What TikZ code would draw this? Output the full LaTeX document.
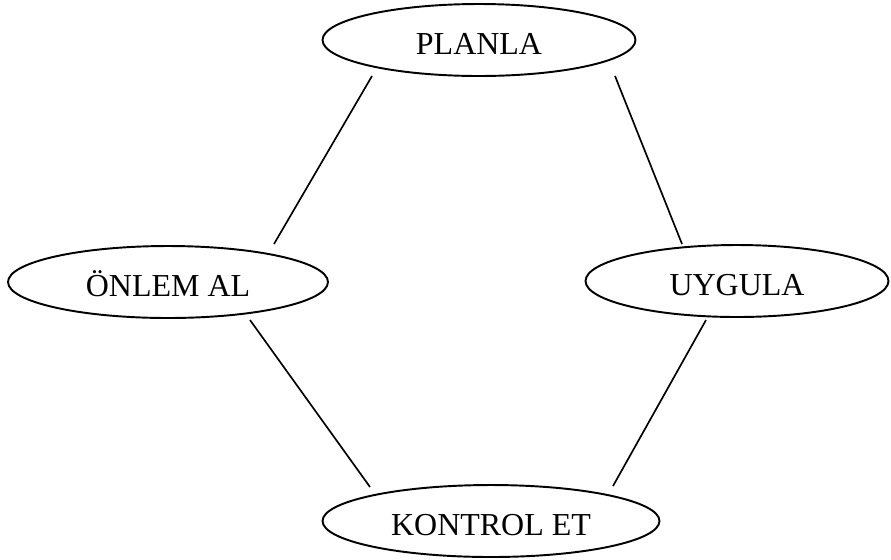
\documentclass[tikz,border=0pt]{standalone}
\usepackage{fontspec}
\setmainfont{Liberation Serif}
\usetikzlibrary{shapes.geometric}
\tikzset{oval/.style = {draw, ellipse, line width=1.1pt, inner sep=0pt,
                        minimum height=1.44cm, text height=0.58cm, text depth=0pt,
                        font=\fontsize{18.2}{20}\selectfont}}

\begin{document}
\begin{tikzpicture}[x=0.02cm, y=-0.02cm, line width=0.95pt]
      \useasboundingbox (0, 0) rectangle (891, 559);

      \node [oval, minimum width=6.26cm] (planla) at (479, 40) {PLANLA};
      \node [oval, minimum width=6.4cm] (onlem) at (168, 282) {ÖNLEM AL};
      \node [oval, minimum width=6.06cm] (uygula) at (737, 281) {UYGULA};
      \node [oval, minimum width=6.74cm] (kontrol) at (491, 521) {KONTROL ET};

      \coordinate (planla-l) at (372, 76);
      \coordinate (planla-r) at (615, 76);
      \coordinate (onlem-t) at (274, 244);
      \coordinate (onlem-b) at (250, 320);
      \coordinate (uygula-t) at (682, 244);
      \coordinate (uygula-b) at (706, 320);
      \coordinate (kontrol-l) at (370, 487);
      \coordinate (kontrol-r) at (613, 486);

      \draw (planla-l) -- (onlem-t);
      \draw (planla-r) -- (uygula-t);
      \draw (onlem-b) -- (kontrol-l);
      \draw (uygula-b) -- (kontrol-r);
    \end{tikzpicture}
\end{document}
